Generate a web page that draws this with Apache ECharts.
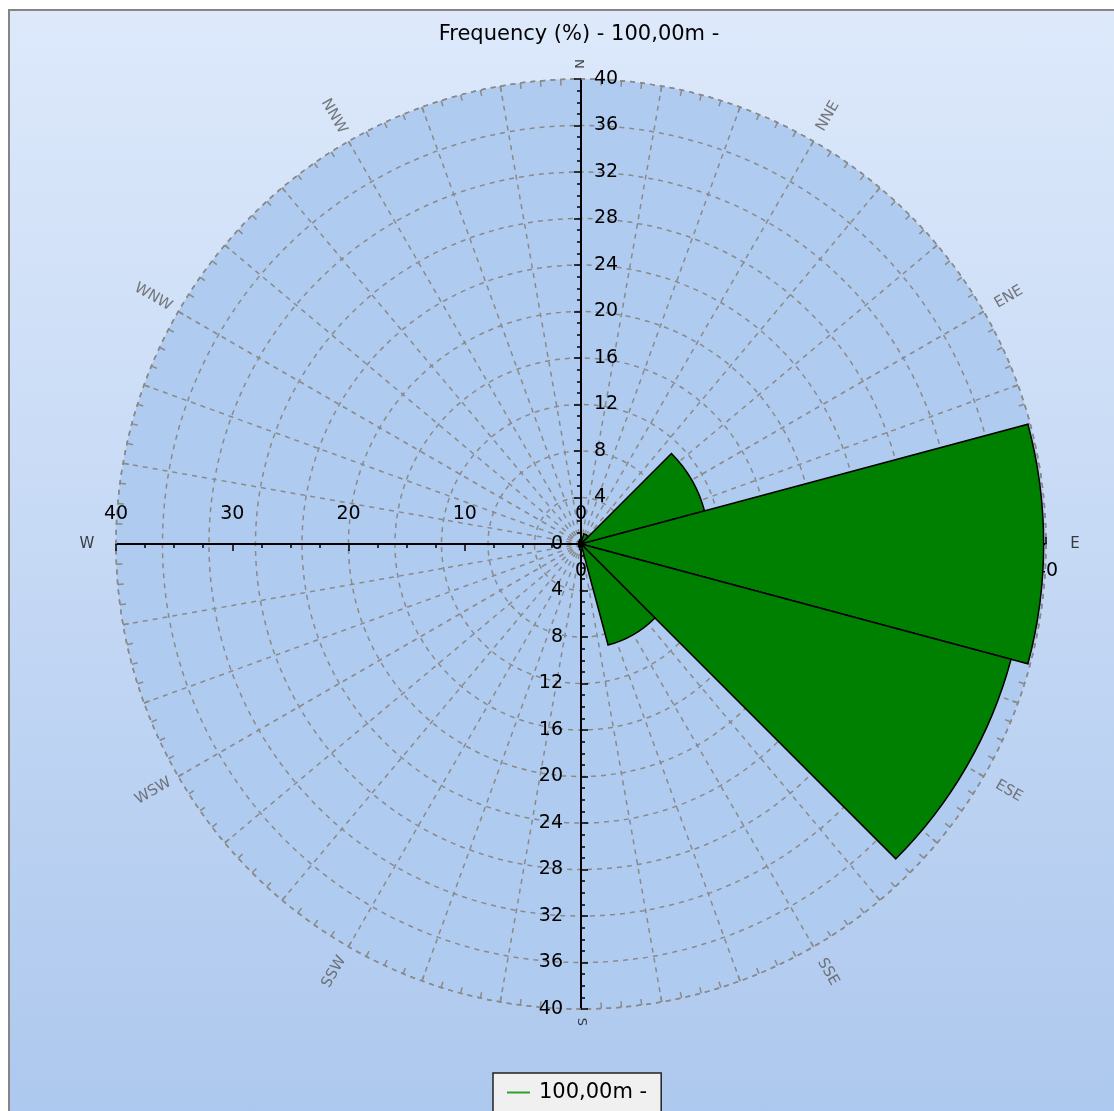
<!DOCTYPE html>
<html>
<head>
<meta charset="utf-8">
<title>Frequency (%) - 100,00m -</title>
<script src="https://cdn.jsdelivr.net/npm/echarts@6.0.0/dist/echarts.min.js"></script>
<style>
  html, body { margin: 0; padding: 0; background: #fff; overflow: hidden; }
  #frame {
    position: absolute; left: 8px; top: 9px; width: 1120px; height: 1110px;
    box-sizing: border-box;
    border-left: 2px solid #858585; border-top: 2px solid #858585;
    background: linear-gradient(#dde9fb, #adc8ee);
  }
  #main { position: absolute; left: 0; top: 0; width: 1114px; height: 1111px; }
</style>
</head>
<body>
<div id="frame"></div>
<div id="main"></div>
<script>
// sectors, clockwise from north (30 degrees each)
const directions = ['N', 'NNE', 'ENE', 'E', 'ESE', 'SSE', 'S', 'SSW', 'WSW', 'W', 'WNW', 'NNW'];
const compassAngles = [0, 30, 60, 90, 120, 150, 180, 210, 240, 270, 300, 330];
// frequency (%) per sector
const frequency = [0.4, 0.9, 11.0, 39.8, 38.3, 9.0, 0.5, 0.3, 0.2, 0.2, 0.2, 0.3];
const seriesName = '100,00m -';
const chartTitle = 'Frequency (%) - 100,00m -';

const CENTER = [581, 544];
const RADIUS = 465;
const FONT = 'DejaVu Sans';
const gridLine = { color: '#8a8a8a', width: 1.5, type: [5, 5] };
const axisBlack = { color: '#000', width: 2 };

const chart = echarts.init(document.getElementById('main'));

// keep compass text radial but never upside down
function radialRotate(a) {
  let r = 90 - a;
  while (r < -90) r += 180;
  while (r > 90) r -= 180;
  return r;
}

function hiddenAngle(polarIndex, startAngle) {
  return { polarIndex: polarIndex, type: 'value', min: 0, max: 360, startAngle: startAngle, clockwise: true, show: false };
}

function labelAxis(polarIndex, interval, label) {
  return {
    polarIndex: polarIndex, type: 'value', min: 0, max: 40, interval: interval, z: 1,
    axisLine: { show: true, lineStyle: axisBlack },
    axisTick: { show: true, inside: true, length: 7, lineStyle: { color: '#000', width: 1.5 } },
    minorTick: { show: true, splitNumber: 4, length: 4, lineStyle: { color: '#000', width: 1.5 } },
    splitLine: { show: false },
    axisLabel: Object.assign({ fontFamily: FONT, fontSize: 19, color: '#000' }, label)
  };
}

const polars = [];
for (let i = 0; i < 5; i++) polars.push({ center: CENTER, radius: RADIUS });
polars.push({ center: CENTER, radius: 494 });

chart.setOption({
  animation: false,
  title: {
    text: chartTitle, left: 574, top: 19, textAlign: 'center',
    textStyle: { fontFamily: FONT, fontSize: 21, fontWeight: 'normal', color: '#000' }
  },
  legend: {
    data: [{ name: seriesName, itemStyle: { color: '#2ca02c', borderWidth: 0 } }],
    left: 493, top: 1073,
    backgroundColor: '#f0f0f0', borderColor: '#222', borderWidth: 1.5,
    padding: [9, 14, 24, 14],
    icon: 'rect', itemWidth: 23, itemHeight: 2,
    textStyle: { fontFamily: FONT, fontSize: 21, color: '#000', padding: [0, 0, 0, 4] }
  },
  polar: polars,
  angleAxis: [
    {
      // grid: spokes every 10 deg, rim ticks every 2.5 deg
      polarIndex: 0, type: 'value', min: 0, max: 360, interval: 10, startAngle: 90, clockwise: true, z: 1,
      axisLine: { show: true, lineStyle: gridLine },
      axisTick: { show: true, inside: true, length: 6, lineStyle: { color: '#8a8a8a', width: 1.5 } },
      minorTick: { show: true, splitNumber: 4, length: 6, lineStyle: { color: '#8a8a8a', width: 1.5 } },
      axisLabel: { show: false },
      splitLine: { show: true, lineStyle: gridLine }
    },
    hiddenAngle(1, 270),
    hiddenAngle(2, 180),
    hiddenAngle(3, 0),
    {
      polarIndex: 4, type: 'category', data: directions, startAngle: 105, clockwise: true, show: false
    },
    hiddenAngle(5, 90)
  ],
  radiusAxis: [
    Object.assign(labelAxis(0, 4, { margin: -13, align: 'left' }), {
      axisTick: { show: true, length: 7, lineStyle: { color: '#000', width: 1.5 } },
      splitLine: { show: true, lineStyle: gridLine }
    }),
    labelAxis(1, 4, { margin: -18, align: 'right' }),
    labelAxis(2, 10, { margin: -20, verticalAlign: 'bottom' }),
    labelAxis(3, 10, { margin: -18, verticalAlign: 'top' }),
    {
      // disc fill
      polarIndex: 4, type: 'value', min: 0, max: 40, z: 0,
      axisLine: { show: false }, axisTick: { show: false }, axisLabel: { show: false },
      splitLine: { show: false },
      splitArea: { show: true, areaStyle: { color: ['#b0cbf0'] } }
    },
    { polarIndex: 5, type: 'value', min: 0, max: 1, show: false }
  ],
  series: [
    {
      name: seriesName, type: 'bar', coordinateSystem: 'polar', polarIndex: 4,
      barCategoryGap: '0%', z: 5,
      itemStyle: { color: '#008000', borderColor: '#000', borderWidth: 1.5 },
      data: frequency
    },
    {
      type: 'scatter', coordinateSystem: 'polar', polarIndex: 5, symbolSize: 0,
      silent: true, clip: false, z: 6,
      label: { show: true, position: 'inside', formatter: '{b}', fontFamily: FONT, fontSize: 15, color: '#555' },
      data: directions.map((d, i) => {
        const a = compassAngles[i];
        const cardinal = a % 90 === 0;
        const vertical = a === 0 || a === 180;
        return {
          name: d,
          value: [1, a],
          label: {
            rotate: radialRotate(a),
            color: cardinal ? '#111' : '#5a5a5a',
            fontSize: vertical ? 13 : 15,
            // offset is in the rotated frame: pull N and S toward the centre
            offset: vertical ? [a === 0 ? -14 : -16, 0] : [0, 0]
          }
        };
      })
    }
  ]
});
</script>
</body>
</html>
